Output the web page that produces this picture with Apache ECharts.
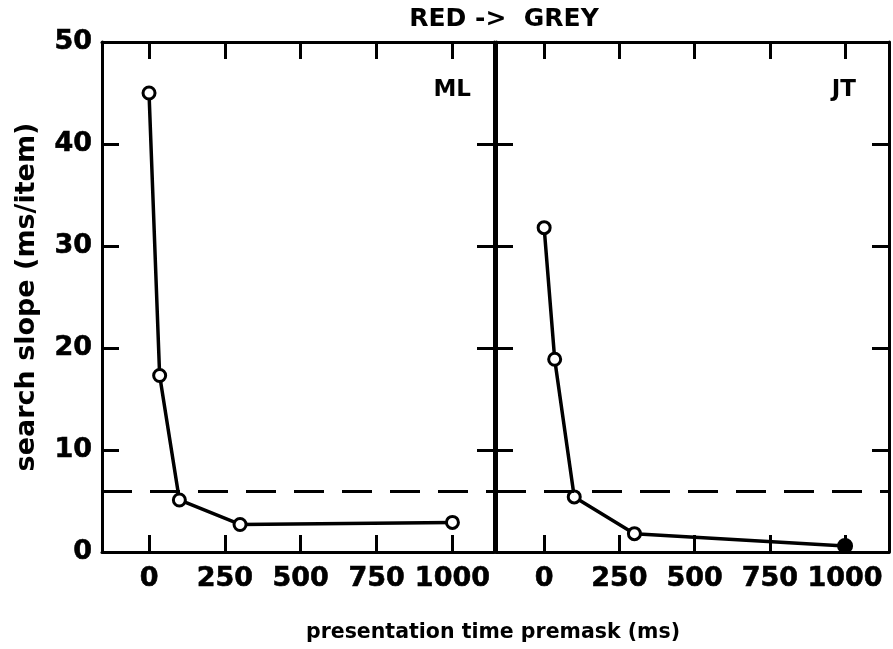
<!DOCTYPE html>
<html>
<head>
<meta charset="utf-8">
<script src="https://cdn.jsdelivr.net/npm/echarts@6/dist/echarts.min.js"></script>
<style>
  html, body { margin: 0; padding: 0; background: #fff; }
  #chart { width: 893px; height: 649px; }
</style>
</head>
<body>
<div id="chart"></div>
<script>
// presentation time premask (ms) vs search slope (ms/item)
const xTicks = [0, 250, 500, 750, 1000];
const mlTime = [0, 35, 100, 300, 1000];
const mlSlope = [45, 17.3, 5.1, 2.7, 2.9];
const jtTime = [0, 35, 100, 300, 1000];
const jtSlope = [31.8, 18.9, 5.4, 1.8, 0.6];
const criterion = 6; // dashed reference line

const font = 'DejaVu Sans';

function pairs(xs, ys) {
	return xs.map((x, i) => [x, ys[i]]);
}

function xAxisFor(grid, pos, min, max) {
	return {
		type: 'value',
		gridIndex: grid,
		position: pos,
		min: min,
		max: max,
		axisLine: { onZero: false, lineStyle: { color: '#000', width: 3 } },
		axisTick: { inside: true, length: 17, lineStyle: { width: 3, color: '#000' }, customValues: xTicks },
		axisLabel: {
			show: pos === 'bottom',
			customValues: xTicks,
			formatter: v => String(v),
			fontFamily: font,
			fontSize: 27,
			fontWeight: 'bold',
			color: '#000',
			textBorderColor: '#000',
			textBorderWidth: 0.6,
			margin: 13
		},
		splitLine: { show: false }
	};
}

function yAxisFor(grid, pos, labels) {
	return {
		type: 'value',
		gridIndex: grid,
		position: pos,
		min: 0,
		max: 50,
		interval: 10,
		axisLine: { onZero: false, lineStyle: { color: '#000', width: 3 } },
		axisTick: { inside: true, length: 17, lineStyle: { width: 3, color: '#000' } },
		axisLabel: {
			show: labels,
			fontFamily: font,
			fontSize: 27,
			fontWeight: 'bold',
			color: '#000',
			textBorderColor: '#000',
			textBorderWidth: 0.6,
			margin: 10
		},
		splitLine: { show: false }
	};
}

function lineSeries(x, y, data, lastFilled) {
	let d = data.map((p, i) => {
		if (lastFilled && i === data.length - 1) {
			return { value: p, symbolSize: 13, itemStyle: { color: '#000' } };
		}
		return p;
	});
	return {
		type: 'line',
		xAxisIndex: x,
		yAxisIndex: y,
		data: d,
		symbol: 'circle',
		symbolSize: 12,
		showSymbol: true,
		lineStyle: { color: '#000', width: 3.5 },
		itemStyle: { color: '#fff', borderColor: '#000', borderWidth: 3 },
		markLine: {
			silent: true,
			symbol: 'none',
			label: { show: false },
			lineStyle: { color: '#000', width: 3, type: [30, 18] },
			data: [{ yAxis: criterion }]
		},
		z: 3
	};
}

let chart = echarts.init(document.getElementById('chart'), null, { renderer: 'canvas' });
let yName = yAxisFor(0, 'left', true);
yName.name = 'search slope (ms/item)';
yName.nameLocation = 'middle';
yName.nameGap = 62;
yName.nameTextStyle = { fontFamily: font, fontSize: 27, fontWeight: 'bold', color: '#000' };

chart.setOption({
	animation: false,
	backgroundColor: '#fff',
	grid: [
		{ left: 102, width: 392, top: 42, bottom: 97 },
		{ left: 496, right: 4, top: 42, bottom: 97 }
	],
	xAxis: [
		xAxisFor(0, 'bottom', -155, 1137),
		xAxisFor(0, 'top', -155, 1137),
		xAxisFor(1, 'bottom', -160, 1146),
		xAxisFor(1, 'top', -160, 1146)
	],
	yAxis: [
		yName,
		yAxisFor(0, 'right', false),
		yAxisFor(1, 'left', false),
		yAxisFor(1, 'right', false)
	],
	series: [
		lineSeries(0, 0, pairs(mlTime, mlSlope), false),
		lineSeries(2, 2, pairs(jtTime, jtSlope), true)
	],
	graphic: [
		{ type: 'text', x: 504, y: 7, style: { text: 'RED ->  GREY', fontFamily: font, fontSize: 25, fontWeight: 'bold', fill: '#000', textAlign: 'center' } },
		{ type: 'text', x: 471, y: 79, style: { text: 'ML', fontFamily: font, fontSize: 23, fontWeight: 'bold', fill: '#000', textAlign: 'right' } },
		{ type: 'text', x: 856, y: 79, style: { text: 'JT', fontFamily: font, fontSize: 23, fontWeight: 'bold', fill: '#000', textAlign: 'right' } },
		{ type: 'text', x: 493, y: 622, style: { text: 'presentation time premask (ms)', fontFamily: font, fontSize: 20.5, fontWeight: 'bold', fill: '#000', textAlign: 'center' } }
	]
});
</script>
</body>
</html>
